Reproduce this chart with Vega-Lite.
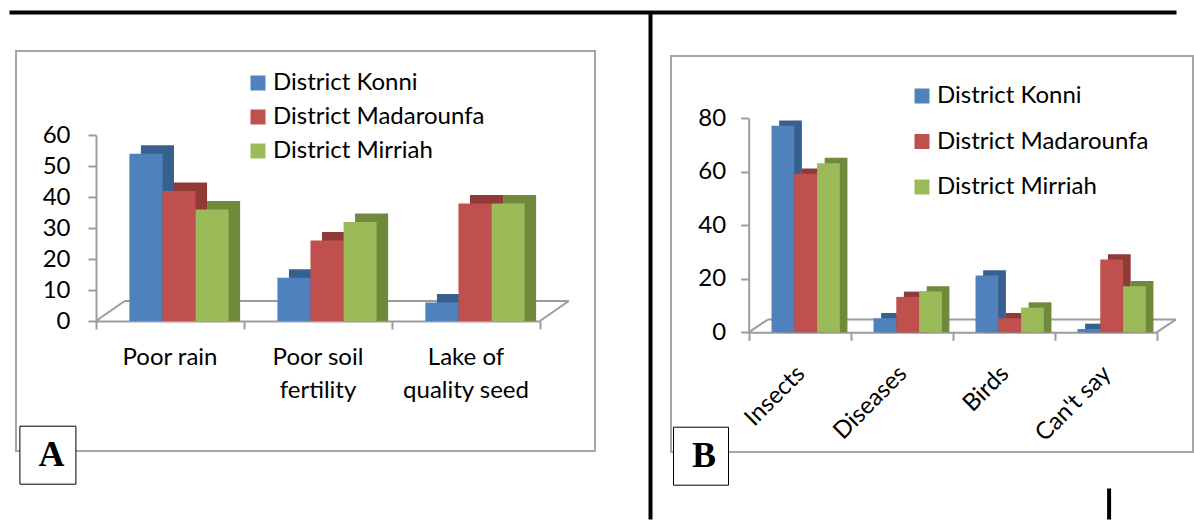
{
  "$schema": "https://vega.github.io/schema/vega-lite/v6.json",
  "background": "white",
  "padding": {"left": 8, "top": 11, "right": 0, "bottom": 0},
  "config": {
    "font": "Lato",
    "view": {"stroke": "#a6a6a6", "strokeWidth": 2},
    "axis": {
      "grid": false,
      "title": null,
      "labelFont": "Lato",
      "labelFontSize": 24,
      "labelColor": "#000000",
      "domainColor": "#9c9c9c",
      "domainWidth": 2,
      "tickColor": "#9c9c9c",
      "tickWidth": 2
    },
    "legend": {"labelFont": "Lato", "labelColor": "#000000"}
  },
  "bounds": "flush",
  "spacing": 76,
  "resolve": {"scale": {"color": "independent", "shape": "independent"}},
  "hconcat": [
    {
      "width": 579,
      "height": 400,
      "data": {"values": [
        {"cause": "Poor rain", "district": "District Konni", "pct": 52},
        {"cause": "Poor rain", "district": "District Madarounfa", "pct": 40},
        {"cause": "Poor rain", "district": "District Mirriah", "pct": 34},
        {"cause": "Poor soil fertility", "district": "District Konni", "pct": 12},
        {"cause": "Poor soil fertility", "district": "District Madarounfa", "pct": 24},
        {"cause": "Poor soil fertility", "district": "District Mirriah", "pct": 30},
        {"cause": "Lake of quality seed", "district": "District Konni", "pct": 4},
        {"cause": "Lake of quality seed", "district": "District Madarounfa", "pct": 36},
        {"cause": "Lake of quality seed", "district": "District Mirriah", "pct": 36}
      ]},
      "layer": [
        {
          "data": {"values": [{}]},
          "layer": [
            {
              "mark": {"type": "rule", "color": "#9c9c9c", "strokeWidth": 2, "x2Offset": 28.7, "y2Offset": -20},
              "encoding": {
                "x": {"datum": 0, "type": "quantitative", "scale": {"domain": [0, 3], "range": [80, 524], "nice": false, "zero": false},
                      "axis": {"orient": "bottom", "offset": -130, "values": [0, 1, 2, 3], "labels": false, "domain": false, "tickSize": 8}},
                "x2": {"datum": 0},
                "y": {"datum": 0, "type": "quantitative"},
                "y2": {"datum": 0}
              }
            },
            {
              "mark": {"type": "rule", "color": "#9c9c9c", "strokeWidth": 2, "x2Offset": 28.7, "y2Offset": -20},
              "encoding": {
                "x": {"datum": 3, "type": "quantitative"},
                "x2": {"datum": 3},
                "y": {"datum": 0, "type": "quantitative"},
                "y2": {"datum": 0}
              }
            },
            {
              "mark": {"type": "rule", "color": "#9c9c9c", "strokeWidth": 2, "xOffset": 28.7, "x2Offset": 28.7, "yOffset": -20},
              "encoding": {
                "x": {"datum": 0, "type": "quantitative"},
                "x2": {"datum": 3},
                "y": {"datum": 0, "type": "quantitative"}
              }
            }
          ]
        },
        {
          "layer": [
            {
              "mark": {"type": "bar", "yOffset": -14.5, "y2Offset": -14.5},
              "encoding": {
                "x": {"field": "cause", "type": "nominal", "sort": null,
                      "scale": {"domain": ["Poor rain", "Poor soil fertility", "Lake of quality seed"], "range": [80, 524], "paddingInner": 0.33, "paddingOuter": 0.165},
                      "axis": {"orient": "bottom", "offset": -130, "ticks": false, "labelAngle": 0, "labelPadding": 24, "labelLineHeight": 33,
                               "labelExpr": "datum.value == 'Poor soil fertility' ? ['Poor soil', 'fertility'] : datum.value == 'Lake of quality seed' ? ['Lake of', 'quality seed'] : datum.label"}},
                "xOffset": {"field": "district", "type": "nominal", "sort": null,
                            "scale": {"domain": ["District Konni", "District Madarounfa", "District Mirriah"], "range": [20.5, 119.7], "paddingInner": 0, "paddingOuter": 0}},
                "y": {"field": "pct", "type": "quantitative", "stack": null,
                      "scale": {"domain": [0, 60], "range": [270, 84], "nice": false},
                      "axis": {"orient": "left", "offset": -80, "values": [0, 10, 20, 30, 40, 50, 60], "tickSize": 8, "labelPadding": 18}},
                "color": {"field": "district", "type": "nominal", "scale": {"domain": ["District Konni", "District Madarounfa", "District Mirriah"], "range": ["#37608f", "#903a37", "#6e8a3a"]}, "legend": null}
              }
            },
            {
              "mark": {"type": "bar", "yOffset": -6, "y2Offset": -6},
              "encoding": {
                "x": {"field": "cause", "type": "nominal", "sort": null},
                "xOffset": {"field": "district", "type": "nominal", "sort": null,
                            "scale": {"domain": ["District Konni", "District Madarounfa", "District Mirriah"], "range": [9, 108.2], "paddingInner": 0, "paddingOuter": 0}},
                "y": {"field": "pct", "type": "quantitative", "stack": null},
                "color": {"field": "district", "type": "nominal",
                          "scale": {"domain": ["District Konni", "District Madarounfa", "District Mirriah"], "range": ["#4f81bd", "#c0504d", "#9bbb59"]},
                          "legend": {"orient": "none", "legendX": 230, "legendY": 20, "title": null, "symbolType": "square", "symbolSize": 225, "symbolStrokeWidth": 0,
                                     "labelFontSize": 24, "labelOffset": 3, "rowPadding": 10, "padding": 0, "labelLimit": 400}}
              }
            }
          ],
          "resolve": {"scale": {"color": "independent", "xOffset": "independent"}}
        },
        {
          "data": {"values": [{}]},
          "mark": {"type": "point", "opacity": 0},
          "encoding": {
            "shape": {"datum": "A", "type": "nominal", "scale": {"domain": ["A"], "range": ["square"]},
                      "legend": {"orient": "none", "legendX": 3.4, "legendY": 374.7, "title": null, "symbolSize": 0, "symbolOpacity": 0,
                                 "labelFont": "Liberation Serif", "labelFontWeight": "bold", "labelFontSize": 36, "labelOffset": -28,
                                 "strokeColor": "#000000", "fillColor": "#ffffff", "padding": 11}}
          }
        }
      ],
      "resolve": {"scale": {"x": "independent"}}
    },
    {
      "bounds": "flush",
      "spacing": 4,
      "vconcat": [
        {
          "width": 522,
          "height": 1,
          "view": {"stroke": null},
          "data": {"values": [{}]},
          "mark": {"type": "point", "opacity": 0, "size": 0}
        },
        {
          "width": 522,
          "height": 396,
          "data": {"values": [
            {"threat": "Insects", "district": "District Konni", "pct": 76},
            {"threat": "Insects", "district": "District Madarounfa", "pct": 58},
            {"threat": "Insects", "district": "District Mirriah", "pct": 62},
            {"threat": "Diseases", "district": "District Konni", "pct": 4},
            {"threat": "Diseases", "district": "District Madarounfa", "pct": 12},
            {"threat": "Diseases", "district": "District Mirriah", "pct": 14},
            {"threat": "Birds", "district": "District Konni", "pct": 20},
            {"threat": "Birds", "district": "District Madarounfa", "pct": 4},
            {"threat": "Birds", "district": "District Mirriah", "pct": 8},
            {"threat": "Can't say", "district": "District Konni", "pct": 0},
            {"threat": "Can't say", "district": "District Madarounfa", "pct": 26},
            {"threat": "Can't say", "district": "District Mirriah", "pct": 16}
          ]},
          "layer": [
            {
              "data": {"values": [{}]},
              "layer": [
                {
                  "mark": {"type": "rule", "color": "#9c9c9c", "strokeWidth": 2, "x2Offset": 19, "y2Offset": -12.7},
                  "encoding": {
                    "x": {"datum": 0, "type": "quantitative", "scale": {"domain": [0, 4], "range": [77.7, 485.7], "nice": false, "zero": false},
                          "axis": {"orient": "bottom", "offset": -119.7, "values": [0, 1, 2, 3, 4], "labels": false, "domain": false, "tickSize": 8}},
                    "x2": {"datum": 0},
                    "y": {"datum": 0, "type": "quantitative", "scale": {"domain": [0, 80], "range": [276.3, 62.3], "nice": false}, "axis": null},
                    "y2": {"datum": 0}
                  }
                },
                {
                  "mark": {"type": "rule", "color": "#9c9c9c", "strokeWidth": 2, "x2Offset": 19, "y2Offset": -12.7},
                  "encoding": {
                    "x": {"datum": 4, "type": "quantitative"},
                    "x2": {"datum": 4},
                    "y": {"datum": 0, "type": "quantitative"},
                    "y2": {"datum": 0}
                  }
                },
                {
                  "mark": {"type": "rule", "color": "#9c9c9c", "strokeWidth": 2, "xOffset": 19, "x2Offset": 19, "yOffset": -12.7},
                  "encoding": {
                    "x": {"datum": 0, "type": "quantitative"},
                    "x2": {"datum": 4},
                    "y": {"datum": 0, "type": "quantitative"}
                  }
                }
              ]
            },
            {
              "layer": [
                {
                  "mark": {"type": "bar", "yOffset": -8.6, "y2Offset": -8.6},
                  "encoding": {
                    "x": {"field": "threat", "type": "nominal", "sort": null,
                          "scale": {"domain": ["Insects", "Diseases", "Birds", "Can't say"], "range": [77.7, 485.7], "paddingInner": 0.33, "paddingOuter": 0.165},
                          "axis": {"orient": "bottom", "offset": -119.7, "ticks": false, "labelAngle": -45, "labelPadding": 29, "labelOffset": -7}},
                    "xOffset": {"field": "district", "type": "nominal", "sort": null,
                                "scale": {"domain": ["District Konni", "District Madarounfa", "District Mirriah"], "range": [13.6, 81.9], "paddingInner": 0, "paddingOuter": 0}},
                    "y": {"field": "pct", "type": "quantitative", "stack": null,
                          "scale": {"domain": [0, 80], "range": [276.3, 62.3], "nice": false},
                          "axis": {"orient": "left", "offset": -77.7, "values": [0, 20, 40, 60, 80], "tickSize": 8, "labelPadding": 15}},
                    "color": {"field": "district", "type": "nominal", "scale": {"domain": ["District Konni", "District Madarounfa", "District Mirriah"], "range": ["#37608f", "#903a37", "#6e8a3a"]}, "legend": null}
                  }
                },
                {
                  "mark": {"type": "bar", "yOffset": -3.3, "y2Offset": -3.3},
                  "encoding": {
                    "x": {"field": "threat", "type": "nominal", "sort": null},
                    "xOffset": {"field": "district", "type": "nominal", "sort": null,
                                "scale": {"domain": ["District Konni", "District Madarounfa", "District Mirriah"], "range": [6, 74.3], "paddingInner": 0, "paddingOuter": 0}},
                    "y": {"field": "pct", "type": "quantitative", "stack": null},
                    "color": {"field": "district", "type": "nominal",
                              "scale": {"domain": ["District Konni", "District Madarounfa", "District Mirriah"], "range": ["#4f81bd", "#c0504d", "#9bbb59"]},
                              "legend": {"orient": "none", "legendX": 239, "legendY": 28, "title": null, "symbolType": "square", "symbolSize": 225, "symbolStrokeWidth": 0,
                                         "labelFontSize": 24, "labelOffset": 3, "rowPadding": 21.5, "padding": 0, "labelLimit": 400}}
                  }
                }
              ],
              "resolve": {"scale": {"color": "independent", "xOffset": "independent"}}
            },
            {
              "data": {"values": [{}]},
              "mark": {"type": "point", "opacity": 0},
              "encoding": {
                "shape": {"datum": "B", "type": "nominal", "scale": {"domain": ["B"], "range": ["square"]},
                          "legend": {"orient": "none", "legendX": 2, "legendY": 375.7, "title": null, "symbolSize": 0, "symbolOpacity": 0,
                                     "labelFont": "Liberation Serif", "labelFontWeight": "bold", "labelFontSize": 36, "labelOffset": -28,
                                     "strokeColor": "#000000", "fillColor": "#ffffff", "padding": 11}}
              }
            },
            {
              "data": {"values": [{}]},
              "mark": {"type": "point", "opacity": 0, "size": 0},
              "encoding": {
                "x": {"datum": 0, "type": "quantitative", "scale": {"domain": [0, 1], "range": [-662, 505], "nice": false, "zero": false},
                      "axis": {"orient": "top", "offset": 44, "ticks": false, "labels": false, "domainColor": "#000000", "domainWidth": 4}},
                "y": {"datum": 0, "type": "quantitative", "scale": {"domain": [0, 1], "range": [463, -44], "nice": false, "zero": false},
                      "axis": {"orient": "left", "offset": 21, "ticks": false, "labels": false, "domainColor": "#000000", "domainWidth": 4}}
              }
            },
            {
              "data": {"values": [{}]},
              "mark": {"type": "point", "opacity": 0, "size": 0},
              "encoding": {
                "y": {"datum": 0, "type": "quantitative", "scale": {"domain": [0, 1], "range": [463, 432], "nice": false, "zero": false},
                      "axis": {"orient": "right", "offset": -84.4, "ticks": false, "labels": false, "domainColor": "#000000", "domainWidth": 4}}
              }
            }
          ],
          "resolve": {"scale": {"x": "independent", "y": "independent"}}
        }
      ]
    }
  ]
}
